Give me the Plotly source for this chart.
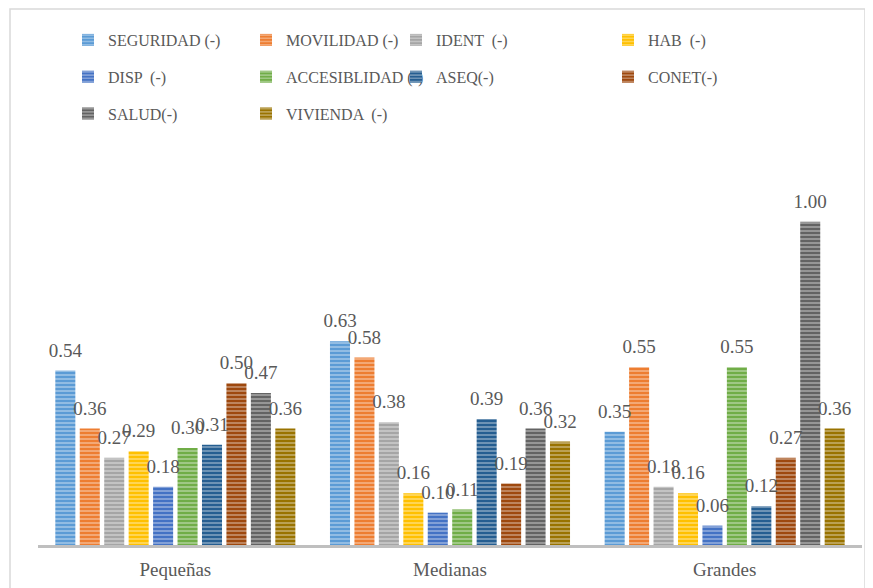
import plotly.graph_objects as go

# Data
categories = ["Pequeñas", "Medianas", "Grandes"]
series_names = ["SEGURIDAD (-)", "MOVILIDAD (-)", "IDENT  (-)", "HAB  (-)",
                "DISP  (-)", "ACCESIBLIDAD (-)", "ASEQ(-)", "CONET(-)",
                "SALUD(-)", "VIVIENDA  (-)"]
seguridad = [0.54, 0.63, 0.35]
movilidad = [0.36, 0.58, 0.55]
ident = [0.27, 0.38, 0.18]
hab = [0.29, 0.16, 0.16]
disp = [0.18, 0.10, 0.06]
accesiblidad = [0.30, 0.11, 0.55]
aseq = [0.31, 0.39, 0.12]
conet = [0.50, 0.19, 0.27]
salud = [0.47, 0.36, 1.00]
vivienda = [0.36, 0.32, 0.36]
values = [seguridad, movilidad, ident, hab, disp, accesiblidad, aseq, conet,
          salud, vivienda]

colors = ["#5B9BD5", "#ED7D31", "#A5A5A5", "#FFC000", "#4472C4", "#70AD47",
          "#255E91", "#9E480E", "#636363", "#997300"]
# which legend column each series goes in (matches the 4-column layout)
legend_ids = ["legend", "legend2", "legend3", "legend4",
              "legend", "legend2", "legend3", "legend4",
              "legend", "legend2"]

FONT = "Liberation Serif"
GREY = "#595959"

# page has an 8px body margin, so the figure is drawn 8px in and 8px smaller
OFF = 8
W, H = 873 - OFF, 588 - OFF
L, R, T, B = 38 - OFF, 11, 157 - OFF, 43
pw, ph = W - L - R, H - T - B


def px_x(x):
    return (x - OFF - L) / pw


def px_y(y):
    return (H - B - (y - OFF)) / ph


fig = go.Figure()
for i, name in enumerate(series_names):
    fig.add_bar(
        x=categories, y=values[i], name=name, offsetgroup=str(i),
        marker=dict(color=colors[i], line=dict(width=0),
                    pattern=dict(shape="-", fgcolor="white", fgopacity=0.55,
                                 size=4, solidity=0.3)),
        legend=legend_ids[i], legendgroup=name,
    )
# value labels as grouped text-only scatter, so they sit a bit above the bars
for i, name in enumerate(series_names):
    fig.add_scatter(
        x=categories, y=values[i], mode="markers+text", offsetgroup=str(i),
        marker=dict(size=13, opacity=0), text=values[i],
        texttemplate="%{y:.2f}", textposition="top center",
        textfont=dict(family=FONT, size=19, color=GREY),
        cliponaxis=False, showlegend=False, hoverinfo="skip",
    )

legend_style = dict(font=dict(family=FONT, size=16, color=GREY),
                    bgcolor="rgba(0,0,0,0)", itemwidth=30,
                    tracegroupgap=13, yanchor="top", xanchor="left",
                    orientation="v")
legend_top = px_y(23)

fig.update_layout(
    width=W, height=H,
    margin=dict(l=L, r=R, t=T, b=B, autoexpand=False),
    paper_bgcolor="white", plot_bgcolor="white",
    barmode="group", bargap=0.11, bargroupgap=0.18,
    scattermode="group", scattergap=0.11,
    showlegend=True,
    legend=dict(x=px_x(68), y=legend_top, **legend_style),
    legend2=dict(x=px_x(246), y=legend_top, **legend_style),
    legend3=dict(x=px_x(396), y=legend_top, **legend_style),
    legend4=dict(x=px_x(608), y=legend_top, **legend_style),
    xaxis=dict(showline=True, linecolor="#BFBFBF", linewidth=3,
               ticks="", showgrid=False, ticklabelstandoff=5,
               automargin=False,
               tickfont=dict(family=FONT, size=19, color=GREY)),
    yaxis=dict(range=[0, 1.2], visible=False, showgrid=False,
               automargin=False),
)

# chart frame
fig.add_shape(type="rect", xref="paper", yref="paper",
              x0=px_x(10), x1=px_x(865), y0=px_y(600), y1=px_y(9),
              line=dict(color="#D9D9D9", width=1.5), layer="below")

fig.write_html("out.html")
